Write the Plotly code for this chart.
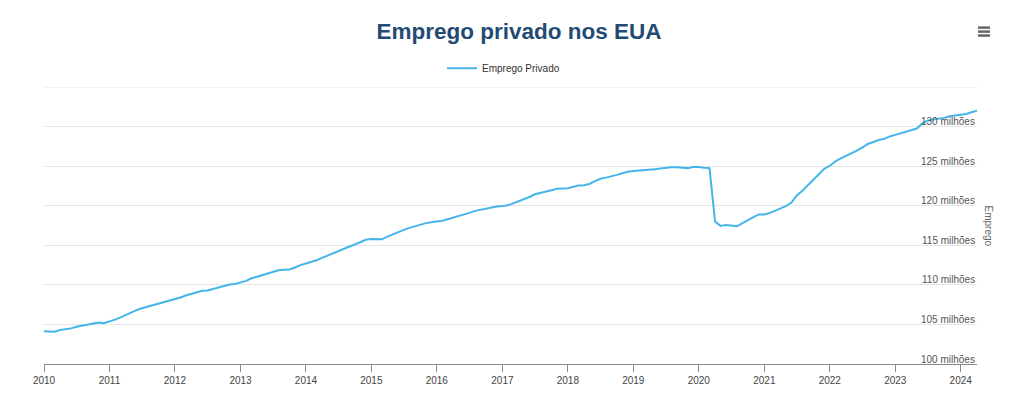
import plotly.graph_objects as go
import pandas as pd

# Monthly private employment (millions), Jan 2010 .. Apr 2024
values_2010 = [104.15, 104.1, 104.08, 104.3, 104.4, 104.5, 104.7, 104.85, 104.95, 105.05, 105.25, 105.15]
values_2011 = [105.35, 105.6, 105.85, 106.2, 106.5, 106.8, 107.05, 107.25, 107.45, 107.65, 107.8, 108.0]
values_2012 = [108.15, 108.4, 108.65, 108.85, 109.05, 109.25, 109.3, 109.5, 109.7, 109.85, 110.05, 110.1]
values_2013 = [110.3, 110.5, 110.8, 111.0, 111.2, 111.4, 111.6, 111.85, 111.9, 111.95, 112.2, 112.5]
values_2014 = [112.7, 112.9, 113.1, 113.4, 113.7, 114.0, 114.3, 114.6, 114.85, 115.1, 115.4, 115.7]
values_2015 = [115.8, 115.8, 115.75, 116.1, 116.4, 116.7, 116.95, 117.2, 117.4, 117.65, 117.8, 117.9]
values_2016 = [118.0, 118.1, 118.3, 118.5, 118.65, 118.9, 119.1, 119.35, 119.5, 119.7, 119.85, 119.9]
values_2017 = [119.95, 120.05, 120.3, 120.55, 120.8, 121.1, 121.45, 121.6, 121.75, 121.95, 122.15, 122.2]
values_2018 = [122.2, 122.4, 122.55, 122.6, 122.75, 123.1, 123.4, 123.55, 123.7, 123.9, 124.1, 124.3]
values_2019 = [124.4, 124.45, 124.45, 124.5, 124.6, 124.7, 124.8, 124.85, 124.85, 124.8, 124.75, 124.9]
values_2020 = [124.9, 124.8, 124.75, 118.0, 117.45, 117.55, 117.45, 117.4, 117.8, 118.2, 118.55, 118.9]
values_2021 = [118.9, 119.1, 119.35, 119.6, 119.95, 120.4, 121.3, 121.9, 122.6, 123.3, 123.95, 124.65]
values_2022 = [125.05, 125.6, 125.95, 126.3, 126.55, 126.95, 127.35, 127.8, 128.05, 128.3, 128.45, 128.75]
values_2023 = [128.95, 129.15, 129.35, 129.5, 129.75, 130.4, 130.75, 130.9, 131.0, 131.1, 131.3, 131.4]
values_2024 = [131.5, 131.6, 131.8, 132.0]

employment = (values_2010 + values_2011 + values_2012 + values_2013 + values_2014 +
              values_2015 + values_2016 + values_2017 + values_2018 + values_2019 +
              values_2020 + values_2021 + values_2022 + values_2023 + values_2024)
dates = pd.date_range("2010-01-01", periods=len(employment), freq="MS")

year_ticks = [f"{y}-01-01" for y in range(2010, 2025)]
year_labels = [str(y) for y in range(2010, 2025)]
y_ticks = [100, 105, 110, 115, 120, 125, 130, 135]
y_labels = ["100 milhões", "105 milhões", "110 milhões", "115 milhões",
            "120 milhões", "125 milhões", "130 milhões", ""]

FONT = "Liberation Sans, Arial, sans-serif"

fig = go.Figure()
fig.add_trace(go.Scatter(
    x=dates, y=employment, mode="lines", name="Emprego Privado",
    line=dict(color="#45b5e9", width=2),
))

fig.update_layout(
    width=1016, height=390,
    margin=dict(l=36, r=47, t=79, b=31),
    paper_bgcolor="white", plot_bgcolor="white",
    font=dict(family=FONT, size=10, color="#333333"),
    title=dict(text="<b>Emprego privado nos EUA</b>", x=0.503, xanchor="center",
               y=0.94, yanchor="middle",
               font=dict(family=FONT, size=22.5, color="#234a73")),
    showlegend=True,
    legend=dict(orientation="h", x=0.4925, xanchor="center", y=1.068, yanchor="middle",
                font=dict(family=FONT, size=10, color="#333333"), itemwidth=30),
    xaxis=dict(
        type="date", range=["2010-01-01", "2024-04-01"],
        tickvals=year_ticks, ticktext=year_labels,
        showgrid=False, showline=True, linecolor="#8a8a8a", linewidth=1,
        ticks="outside", ticklen=7, tickcolor="#8a8a8a",
        tickfont=dict(family=FONT, size=10, color="#444444"),
        zeroline=False,
    ),
    yaxis=dict(
        range=[100, 135], side="right",
        tickvals=y_ticks,
        showticklabels=False,
        showgrid=True, gridcolor="#e6e6e6", gridwidth=1,
        showline=False, zeroline=False, ticks="",
    ),
)

# Top grid line (at the edge of the plot area)
fig.add_shape(type="line", xref="paper", yref="y", x0=0, x1=1,
              y0=y_ticks[-1], y1=y_ticks[-1], layer="below",
              line=dict(color="#e6e6e6", width=1))

# Y tick labels, drawn inside the plot above their grid lines
for v, lab in zip(y_ticks, y_labels):
    if lab:
        fig.add_annotation(
            text=lab, xref="paper", yref="y", x=1, y=v,
            xanchor="right", yanchor="middle", yshift=5, showarrow=False,
            font=dict(family=FONT, size=10, color="#555555"),
        )

fig.add_annotation(
    text="Emprego", textangle=90, xref="paper", yref="paper",
    x=1.0118, y=0.5, xanchor="center", yanchor="middle", showarrow=False,
    font=dict(family=FONT, size=10, color="#666666"),
)

# Hamburger menu icon
for py in (1.2143, 1.2, 1.1857):
    fig.add_shape(type="line", xref="paper", yref="paper",
                  x0=1.0011, x1=1.0139, y0=py, y1=py,
                  line=dict(color="#666666", width=2.5))

fig.write_html("out.html")
